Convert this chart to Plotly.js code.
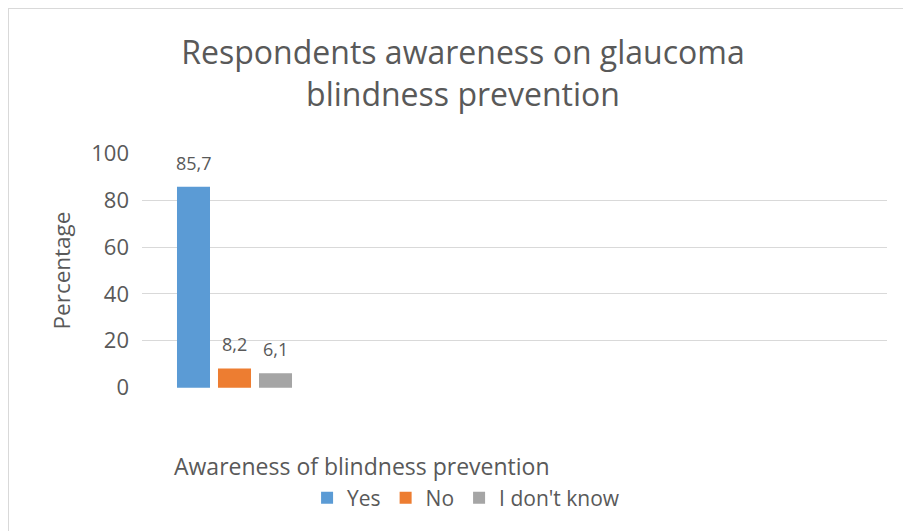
<!DOCTYPE html>
<html>
<head>
<meta charset="utf-8">
<script src="https://cdn.plot.ly/plotly-3.0.1.min.js"></script>
<style>
  html, body { margin: 0; padding: 0; background: #ffffff; }
  #wrap { position: relative; width: 903px; height: 531px; overflow: hidden; }
  #chart { position: absolute; left: 0; top: 0; width: 903px; height: 531px; }
  #frame { position: absolute; left: 8px; top: 8px; width: 920px; height: 560px;
           border-left: 1px solid #d9d9d9; border-top: 1px solid #d9d9d9; pointer-events: none; }
</style>
</head>
<body>
<div id="wrap">
  <div id="chart"></div>
  <div id="frame"></div>
</div>
<script>
// Survey result: awareness of glaucoma blindness prevention (percent of respondents)
const category = ['Awareness of blindness prevention'];
const seriesNames = ['Yes', 'No', "I don't know"];
const seriesValues = [85.7, 8.2, 6.1];
const seriesColors = ['#5B9BD5', '#ED7D31', '#A5A5A5'];
const yTicks = [0, 20, 40, 60, 80, 100];

const textColor = '#595959';
const font = 'Open Sans, Noto Sans, sans-serif';

const traces = seriesNames.map((name, i) => ({
  type: 'bar',
  name: name,
  x: category,
  y: [seriesValues[i]],
  marker: { color: seriesColors[i] },
  hoverinfo: 'skip'
}));

// value labels above each bar, one per series slot in the group
const slotPx = 41;
const labelAnnotations = seriesValues.map((v, i) => ({
  xref: 'x', yref: 'y',
  x: category[0], y: v,
  text: v.toFixed(1).replace('.', ','),
  showarrow: false,
  xanchor: 'center', yanchor: 'middle',
  xshift: (i - (seriesValues.length - 1) / 2) * slotPx,
  yshift: 24,
  font: { family: font, size: 18, color: textColor }
}));

const categoryLabel = {
  xref: 'paper', yref: 'paper',
  x: 0.04, y: -0.332,
  xanchor: 'left', yanchor: 'middle',
  text: category[0],
  showarrow: false,
  font: { family: font, size: 23, color: textColor }
};

const layout = {
  width: 903,
  height: 531,
  margin: { l: 142, r: 16, t: 153, b: 143 },
  paper_bgcolor: '#ffffff',
  plot_bgcolor: '#ffffff',
  separators: ',.',
  barmode: 'group',
  bargap: 0.335,
  bargroupgap: 0.195,
  title: {
    text: 'Respondents awareness on glaucoma<br>blindness prevention',
    font: { family: font, size: 32, color: textColor },
    xref: 'container', x: 463 / 903, xanchor: 'center',
    yref: 'container', y: 1 - 64 / 531, yanchor: 'top'
  },
  xaxis: {
    type: 'category',
    range: [-0.5, -0.5 + 745 / 185],
    showticklabels: false,
    showgrid: false,
    showline: false,
    zeroline: false,
    ticks: ''
  },
  yaxis: {
    range: [-0.15, 100.15],
    tickvals: yTicks,
    ticktext: yTicks.map(String),
    showgrid: true,
    gridcolor: '#d9d9d9',
    gridwidth: 1,
    zeroline: false,
    showline: false,
    ticks: '',
    ticklabelstandoff: 12,
    tickfont: { family: font, size: 22, color: textColor },
    title: {
      text: 'Percentage',
      font: { family: font, size: 22.5, color: textColor },
      standoff: 14
    }
  },
  showlegend: true,
  legend: {
    orientation: 'h',
    xref: 'paper', yref: 'paper',
    x: 0.435, xanchor: 'center',
    y: -0.468, yanchor: 'middle',
    font: { family: font, size: 21, color: textColor },
    bgcolor: 'rgba(0,0,0,0)'
  },
  annotations: labelAnnotations.concat([categoryLabel])
};

Plotly.newPlot('chart', traces, layout, { displayModeBar: false, staticPlot: true });
</script>
</body>
</html>
